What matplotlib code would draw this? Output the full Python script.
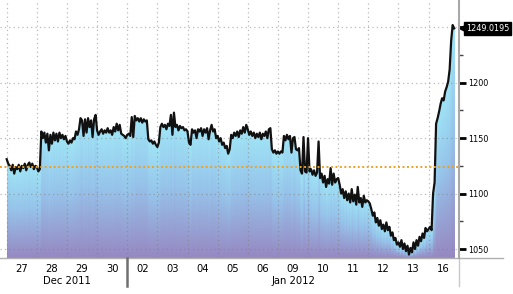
import numpy as np
import matplotlib
matplotlib.use("Agg")
import matplotlib.pyplot as plt
from matplotlib import font_manager

# Trading days on the x axis and the two month captions
day_labels = ['27', '28', '29', '30', '02', '03', '04', '05', '06', '09', '10', '11', '12', '13', '16']
month_labels = ['Dec 2011', 'Jan 2012']
month_start = [0, 4]  # first trading day index of each month

# Intraday prices, 20 samples per trading day
px_27 = [1131, 1127, 1125, 1121, 1126, 1118, 1124, 1122, 1126, 1120, 1125, 1123, 1127, 1121, 1126, 1128, 1124, 1127, 1122, 1125]
px_28 = [1124, 1120, 1122, 1156, 1150, 1155, 1146, 1154, 1139, 1153, 1145, 1155, 1148, 1154, 1147, 1155, 1150, 1153, 1149, 1152]
px_29 = [1147, 1145, 1148, 1146, 1150, 1149, 1156, 1153, 1158, 1168, 1166, 1152, 1167, 1155, 1168, 1160, 1166, 1151, 1167, 1171]
px_30 = [1157, 1153, 1156, 1158, 1154, 1157, 1155, 1159, 1155, 1157, 1153, 1160, 1156, 1163, 1157, 1162, 1154, 1153, 1152, 1150]
px_02 = [1153, 1154, 1152, 1169, 1151, 1170, 1166, 1168, 1165, 1168, 1164, 1167, 1165, 1166, 1149, 1147, 1148, 1145, 1147, 1144]
px_03 = [1142, 1146, 1160, 1163, 1160, 1162, 1158, 1163, 1161, 1171, 1153, 1173, 1160, 1162, 1157, 1161, 1159, 1160, 1157, 1158]
px_04 = [1156, 1146, 1144, 1158, 1155, 1157, 1150, 1158, 1156, 1159, 1152, 1158, 1155, 1159, 1149, 1157, 1162, 1156, 1158, 1150]
px_05 = [1152, 1147, 1150, 1144, 1146, 1141, 1143, 1136, 1140, 1153, 1150, 1155, 1152, 1156, 1151, 1157, 1154, 1160, 1155, 1162]
px_06 = [1158, 1153, 1156, 1152, 1155, 1150, 1154, 1151, 1155, 1149, 1154, 1152, 1156, 1150, 1158, 1159, 1140, 1137, 1139, 1136]
px_09 = [1138, 1136, 1138, 1137, 1152, 1148, 1153, 1149, 1152, 1137, 1150, 1151, 1140, 1139, 1141, 1121, 1118, 1151, 1120, 1119]
px_10 = [1150, 1120, 1122, 1117, 1121, 1116, 1119, 1147, 1114, 1118, 1110, 1116, 1106, 1113, 1109, 1123, 1108, 1118, 1110, 1113]
px_11 = [1114, 1108, 1100, 1104, 1096, 1102, 1094, 1100, 1092, 1104, 1093, 1099, 1090, 1106, 1092, 1096, 1088, 1098, 1092, 1094]
px_12 = [1093, 1091, 1086, 1080, 1083, 1074, 1078, 1071, 1076, 1068, 1072, 1066, 1074, 1067, 1070, 1062, 1065, 1058, 1060, 1054]
px_13 = [1056, 1052, 1058, 1050, 1055, 1048, 1053, 1045, 1051, 1047, 1056, 1050, 1058, 1053, 1061, 1057, 1064, 1060, 1069, 1066]
px_16 = [1068, 1070, 1067, 1100, 1110, 1163, 1168, 1174, 1181, 1186, 1184, 1192, 1196, 1201, 1212, 1238, 1252, 1249.0195]
prices = [px_27, px_28, px_29, px_30, px_02, px_03, px_04, px_05, px_06,
          px_09, px_10, px_11, px_12, px_13, px_16]

last_price = 1249.0195
ref_level = 1124.3
y_ticks = [1050, 1100, 1150, 1200, 1250]
y_minor = [1075, 1125, 1175, 1225]
y_lo, y_hi = 1041.9, 1274.6

# narrow font if we have one, otherwise condensed DejaVu
names = {f.name for f in font_manager.fontManager.ttflist}
if 'Liberation Sans Narrow' in names:
    plt.rcParams['font.family'] = ['Liberation Sans Narrow', 'DejaVu Sans']
    lab_size, ytk_size = 9, 7.5
else:
    plt.rcParams['font.family'] = ['DejaVu Sans']
    plt.rcParams['font.stretch'] = 'condensed'
    lab_size, ytk_size = 8, 6.5

t = np.concatenate([i + np.arange(len(p)) / 20 for i, p in enumerate(prices)])
v = np.concatenate([np.asarray(p, dtype=float) for p in prices])

fig = plt.figure(figsize=(5.13, 2.94), dpi=100)
ax = fig.add_axes([0.0, 36 / 294, 458.7 / 513, 258 / 294])

# Gradient fill under the line: cyan just under the price, purple at the bottom
gx = np.linspace(t[0], t[-1], 1400)
gy = np.linspace(y_lo, v.max(), 500)
line_at = np.interp(gx, t, v)
frac = (line_at[None, :] - gy[:, None]) / (line_at[None, :] - y_lo)
frac = np.clip(frac, 0, 1)
stops = [0.0, 0.45, 1.0]
top_c = np.array([160, 228, 246]) / 255
mid_c = np.array([150, 196, 234]) / 255
bot_c = np.array([150, 136, 194]) / 255
img = np.zeros((len(gy), len(gx), 4))
for k in range(3):
    img[..., k] = np.interp(frac, stops, [top_c[k], mid_c[k], bot_c[k]])
img[..., 3] = (gy[:, None] <= line_at[None, :]).astype(float)
ax.imshow(img, extent=[t[0], t[-1], y_lo, v.max()], origin='lower',
          aspect='auto', interpolation='nearest', zorder=1)

ax.plot(t, v, color='#111111', lw=1.6, zorder=3)
ax.axhline(ref_level, color='#f0a020', lw=1.4, ls=(0, (1, 1.3)), zorder=4)

ax.set_xlim(-6.7 / 30.13, 15.0)
ax.set_ylim(y_lo, y_hi)

# x axis: labels at day centres, grid at day boundaries
ax.set_xticks(np.arange(len(day_labels)) + 0.5)
ax.set_xticklabels(day_labels, fontsize=lab_size)
ax.set_xticks(np.arange(len(day_labels) + 1), minor=True)
ax.tick_params(axis='x', which='both', length=0, pad=4)
ax.grid(True, axis='x', which='minor', color='#808080', alpha=0.55, lw=0.9, ls=(0, (1, 2.5)))

# y axis on the right
ax.yaxis.tick_right()
ax.set_yticks(y_ticks)
ax.set_yticklabels([str(y) for y in y_ticks[:-1]] + [''], fontsize=ytk_size)
ax.set_yticks(y_minor, minor=True)
ax.tick_params(axis='y', which='major', length=5, width=2, color='black', pad=2)
ax.tick_params(axis='y', which='minor', length=3, width=1, color='#444444')
ax.grid(True, axis='y', which='major', color='#808080', alpha=0.55, lw=0.9, ls=(0, (1, 2.5)))

for side in ['top', 'left', 'bottom']:
    ax.spines[side].set_visible(False)
ax.spines['right'].set_color('#a8a8a8')
ax.spines['right'].set_linewidth(1.5)

# bottom rule, right axis extension and month separator
ax.plot([0, 503 / 458.7], [0, 0], transform=ax.transAxes, color='#b0b0b0', lw=1, clip_on=False)
ax.plot([1, 1], [0, -28 / 258], transform=ax.transAxes, color='#c8c8c8', lw=1, clip_on=False)
xa = ax.get_xaxis_transform()
ax.plot([month_start[1], month_start[1]], [0, -28 / 258], transform=xa, color='#707070', lw=1.8, clip_on=False)
month_end = month_start[1:] + [len(day_labels)]
for lab, s, e in zip(month_labels, month_start, month_end):
    ax.text((s + e) / 2, -23 / 258, lab, transform=xa, ha='center', va='center', fontsize=lab_size)

# last price tag
ya = ax.get_yaxis_transform()
ax.plot([1 + 3 / 458.7], [last_price], marker='<', ms=5, color='black', transform=ya, clip_on=False)
ax.text(1 + 7 / 458.7, last_price, f'{last_price:.4f}', transform=ya, ha='left', va='center',
        fontsize=ytk_size, color='white',
        bbox=dict(boxstyle='square,pad=0.2', fc='black', ec='black'))

fig.savefig('out.png', dpi=100)
